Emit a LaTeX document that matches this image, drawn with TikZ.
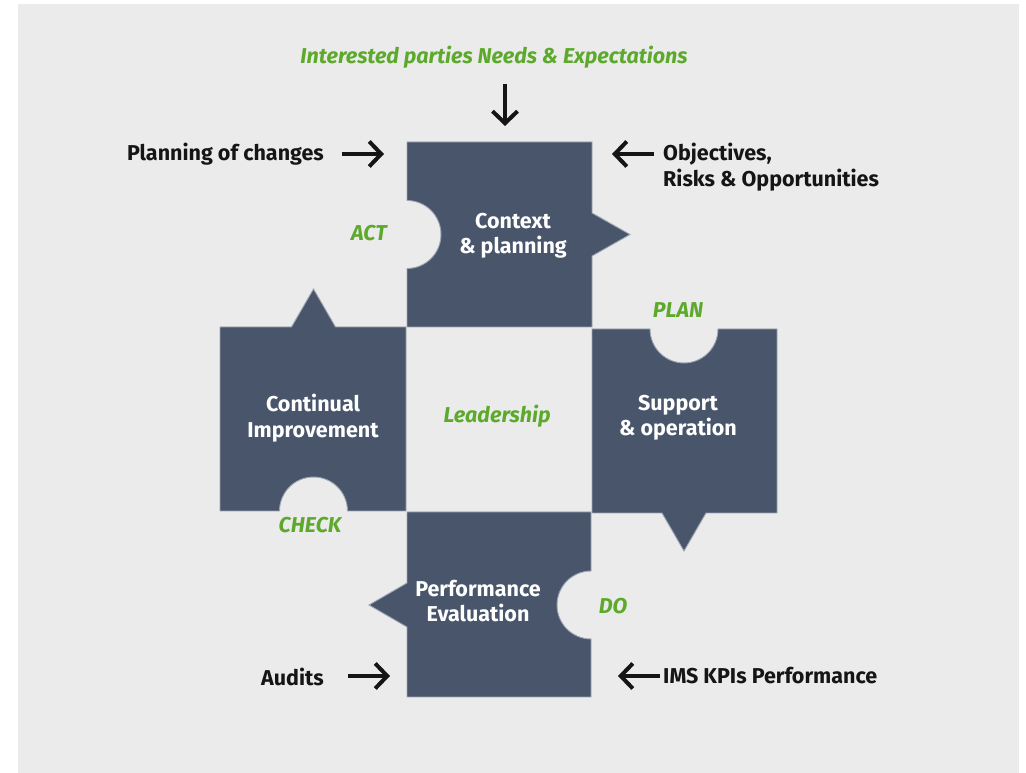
\documentclass[tikz,border=0pt]{standalone}
\usepackage{fontspec}
\setmainfont{Fira Sans}
\usetikzlibrary{arrows.meta}

\definecolor{paper}{HTML}{EBEBEB}
\definecolor{slate}{HTML}{48556A}
\definecolor{edge}{HTML}{9CA5B2}
\definecolor{leaf}{HTML}{5CA92C}
\definecolor{ink}{HTML}{151515}

\tikzset{
  piece/.style={fill=slate, draw=edge, line width=0.9pt, line join=miter},
  label/.style={font=\fontsize{21.5}{25.5}\selectfont\bfseries, text=ink, inner sep=0pt},
  title/.style={font=\fontsize{21.5}{25.5}\selectfont\bfseries, text=white, align=center, inner sep=0pt},
  phase/.style={font=\fontsize{21.5}{25.5}\selectfont\bfseries\itshape, text=leaf, inner sep=0pt},
  feed/.style={draw=ink, line width=4pt, -{Straight Barb[length=12pt, width=25pt, line width=4pt]}},
}

\begin{document}
\begin{tikzpicture}[x=1pt, y=1pt]
  \useasboundingbox (0,0) rectangle (1026,773);
  \fill[paper] (18,0) rectangle (1019,769);

  % Context & planning (top)
  \path[piece] (407,631) -- (592,631) -- (592,560) -- (630,538.5) -- (592,517)
    -- (592,446) -- (407,446) -- (407,504.5)
    arc[start angle=-90, end angle=90, radius=34] -- cycle;
  % Continual improvement (left)
  \path[piece] (220,446) -- (291.5,446) -- (313.5,484) -- (335.5,446) -- (406,446)
    -- (406,262) -- (347.5,262)
    arc[start angle=0, end angle=180, radius=34] -- (220,262) -- cycle;
  % Support & operation (right)
  \path[piece] (592,444) -- (650,444)
    arc[start angle=180, end angle=360, radius=34] -- (777,444) -- (777,260)
    -- (706,260) -- (684,222) -- (662,260) -- (592,260) -- cycle;
  % Performance evaluation (bottom)
  \path[piece] (407,261) -- (591,261) -- (591,202)
    arc[start angle=90, end angle=270, radius=34] -- (591,76) -- (407,76)
    -- (407,146) -- (369,168) -- (407,190) -- cycle;

  % Texts
  \node[phase] (needs) at (494,716) {Interested parties Needs \& Expectations};
  \node[label, anchor=east] (changes) at (324,619) {Planning of changes};
  \node[label, anchor=west, align=left] (objectives) at (663,606) {Objectives,\\Risks \& Opportunities};
  \node[label, anchor=east] (audits) at (324,96) {Audits};
  \node[label, anchor=west] (kpis) at (663,97) {IMS KPIs Performance};

  \node[title] (context) at (513,537) {Context\\\& planning};
  \node[title] (improve) at (313,355) {Continual\\Improvement};
  \node[title] (support) at (678,355) {Support\\\& operation};
  \node[title] (perform) at (478,172) {Performance\\Evaluation};

  \node[phase] (act) at (369,540) {ACT};
  \node[phase] (plan) at (678,463) {PLAN};
  \node[phase] (check) at (310,248) {CHECK};
  \node[phase] (do) at (613,167) {DO};
  \node[phase] (lead) at (497,357) {Leadership};

  % Input arrows
  \coordinate (needsA) at (505,689);  \coordinate (needsB) at (505,647);
  \coordinate (changesA) at (342,619); \coordinate (changesB) at (384,619);
  \coordinate (objA) at (654,619);     \coordinate (objB) at (612,619);
  \coordinate (auditsA) at (348,97);   \coordinate (auditsB) at (390,97);
  \coordinate (kpisA) at (660,97);     \coordinate (kpisB) at (618,97);

  \draw[feed] (needsA) -- (needsB);
  \draw[feed] (changesA) -- (changesB);
  \draw[feed] (objA) -- (objB);
  \draw[feed] (auditsA) -- (auditsB);
  \draw[feed] (kpisA) -- (kpisB);
\end{tikzpicture}
\end{document}
